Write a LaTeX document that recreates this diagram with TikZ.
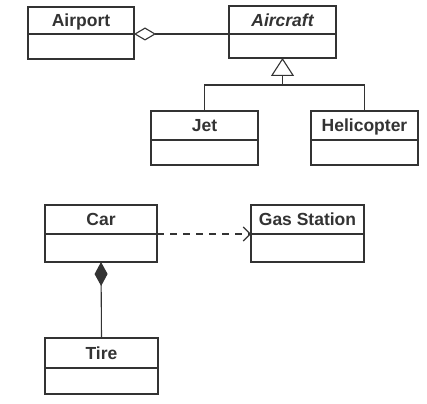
\documentclass[tikz,border=0pt]{standalone}
\usepackage{fontspec}
\setmainfont{Liberation Sans}
\usetikzlibrary{arrows.meta}
\definecolor{ink}{HTML}{333333}
\tikzset{
  classbox/.style={draw=ink, line width=1.2pt, anchor=north west, inner sep=0pt, outer sep=0pt},
  title/.style={text=ink, font=\fontsize{17.5}{20}\selectfont\bfseries, inner sep=0pt},
  divider/.style={draw=ink, line width=1.2pt},
  conn/.style={draw=ink, line width=1.1pt},
}
% #1 name, #2 x1, #3 y1, #4 x2, #5 y2, #6 ydiv, #7 text
\newcommand\umlclass[7]{%
  \node[classbox, minimum width=#4pt-#2pt, minimum height=#5pt-#3pt] (#1) at (#2pt,-#3pt) {};
  \coordinate (#1-dl) at (#2pt,-#6pt);
  \coordinate (#1-dr) at (#4pt,-#6pt);
  \draw[divider] (#1-dl) -- (#1-dr);
  \node[title, anchor=base] (#1-t) at ({(#2pt+#4pt)/2},{-(#3pt+#6pt)/2-6.3pt}) {#7};
}
\begin{document}
\begin{tikzpicture}[x=1pt,y=1pt]
\useasboundingbox[fill=white] (0,0) rectangle (427,-403);
\umlclass{airport}{28}{7}{134}{59}{34}{Airport}
\umlclass{aircraft}{229}{6}{336}{58}{34}{\itshape Aircraft}
\umlclass{jet}{151}{111}{258}{165}{140}{Jet}
\umlclass{heli}{311}{111}{418}{165}{140}{Helicopter}
\umlclass{car}{45}{205}{157}{262}{234}{Car}
\umlclass{gas}{251}{205}{364}{262}{234}{Gas Station}
\umlclass{tire}{45}{338}{158}{394}{368}{Tire}
% aggregation
\draw[conn, {Diamond[open, length=22pt, width=13pt]}-] (airport-dr) -- (aircraft-dl);
% generalization
\coordinate (junc) at (282.5,-85);
\draw[conn] (jet.north) |- (junc) -| (heli.north);
\draw[conn, -{Triangle[open, length=18pt, width=23pt]}] (junc) -- (aircraft.south);
% dependency
\draw[conn, dash pattern=on 7pt off 6pt, -{Straight Barb[length=7pt, width=14pt]}] (car-dr) -- (gas-dl);
% composition
\draw[conn, {Diamond[length=24pt, width=13pt]}-] (car.south) -- (tire.north);
\end{tikzpicture}
\end{document}
